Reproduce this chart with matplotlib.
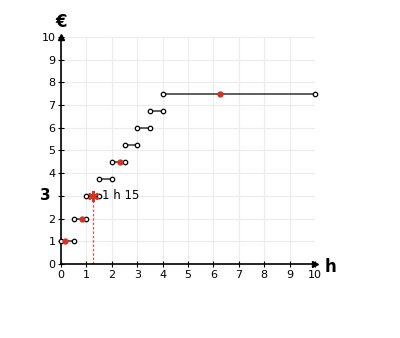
import matplotlib.pyplot as plt

# tariff steps: start hour, end hour, price in euro
step_start = [0, 0.5, 1, 1.5, 2, 2.5, 3, 3.5, 4]
step_end = [0.5, 1, 1.5, 2, 2.5, 3, 3.5, 4, 10]
step_price = [1, 2, 3, 3.75, 4.5, 5.25, 6, 6.75, 7.5]

# highlighted durations (red dots)
dot_x = [1 / 6, 5 / 6, 7 / 3, 6.25]
dot_y = [1, 2, 4.5, 7.5]

# the one worked example
ex_x, ex_y = 1.25, 3

# y tick labels: the 3 is replaced by the bold answer label
y_ticks = list(range(11))
y_labels = ['' if t == ex_y else str(t) for t in y_ticks]

red = '#d9301f'

fig = plt.figure(figsize=(4, 3.38), dpi=100)
ax = fig.add_axes([0.1525, 0.219, 0.635, 0.6715])
ax.set_xlim(0, 10)
ax.set_ylim(0, 10)

ax.set_xticks(range(11))
ax.set_yticks(y_ticks, y_labels)
ax.grid(True, color='#ececec', lw=0.8)
ax.set_axisbelow(True)
for s in ['top', 'right']:
    ax.spines[s].set_visible(False)
ax.spines['left'].set_linewidth(1.2)
ax.spines['bottom'].set_linewidth(1.2)
ax.tick_params(direction='inout', length=4, width=0.8, labelsize=8, pad=2)

# axis arrows
ax.plot(0, 10, marker='^', color='black', ms=4, clip_on=False)
ax.plot(10, 0, marker='>', color='black', ms=4, clip_on=False)

for a, b, p in zip(step_start, step_end, step_price):
    ax.plot([a, b], [p, p], color='#333333', lw=1.1, zorder=3)
    ax.plot([a, b], [p, p], 'o', ms=3.2, mfc='white', mec='black', mew=0.9, zorder=4, clip_on=False)

ax.plot(dot_x, dot_y, 'o', color=red, ms=3.5, zorder=5)

ax.plot([ex_x, ex_x], [0, ex_y], color='#e0504a', lw=0.9, ls=(0, (2, 1.5)), zorder=2)
ax.plot(ex_x, ex_y, marker=(6, 2, 0), color=red, ms=8, mew=1.5, zorder=5)
ax.text(1.6, ex_y, '1 h 15', fontsize=8.5, va='center', ha='left')

ax.text(-0.63, ex_y, '3', fontsize=11, fontweight='bold', va='center', ha='center')
ax.text(0, 10.65, '€', fontsize=12, fontweight='bold', va='center', ha='center')
ax.text(10.6, -0.13, 'h', fontsize=12, fontweight='bold', va='center', ha='center')

plt.savefig('out.png', dpi=100)
